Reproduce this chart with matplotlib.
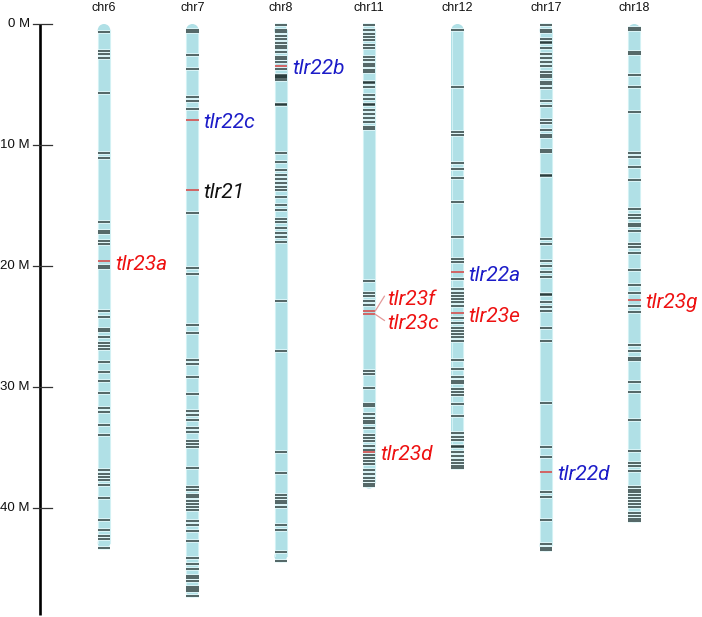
import matplotlib
matplotlib.use("Agg")
import matplotlib.pyplot as plt
from matplotlib.patches import Rectangle, Ellipse

# ---------------- data ----------------
chromosomes = ['chr6', 'chr7', 'chr8', 'chr11', 'chr12', 'chr17', 'chr18']
chrom_lengths = [43.4, 47.4, 44.5, 38.4, 36.8, 43.6, 41.2]  # Mb

chr6_bands = [0.64, 2.2, 2.5, 2.8, 5.7, 10.7, 11.1, 16.4, 17.1, 17.3, 17.9, 18.2, 20.0, 20.2,
              23.7, 24.2, 25.2, 25.4, 25.9, 26.4, 26.6, 26.9, 27.9, 28.8, 29.5, 30.5, 31.7,
              32.1, 33.1, 34.0, 36.9, 37.2, 37.4, 37.7, 38.1, 39.2, 41.0, 41.8, 42.3, 42.6, 43.3]
chr7_bands = [0.5, 0.7, 2.6, 3.75, 6.0, 6.4, 7.0, 15.6, 20.2, 20.7, 24.9, 25.5, 27.8, 28.1,
              29.2, 30.6, 32.0, 32.3, 32.7, 33.4, 33.7, 34.5, 34.7, 35.0, 36.7, 38.3, 38.5,
              38.9, 39.1, 39.4, 39.7, 39.9, 40.2, 41.1, 41.4, 41.9, 42.7, 44.1, 44.6, 45.0,
              45.6, 45.8, 46.0, 46.5, 46.7, 46.9, 47.3]
chr8_bands = [0.05, 0.5, 0.7, 1.0, 1.2, 1.6, 1.8, 2.0, 2.3, 2.7, 2.9, 3.1, 3.7, 4.2, 4.3, 4.4,
              4.5, 4.6, 6.6, 6.7, 10.7, 11.4, 12.1, 12.5, 12.8, 13.1, 13.5, 13.7, 14.3, 15.0,
              15.4, 16.1, 16.4, 16.9, 17.3, 17.6, 18.0, 22.9, 27.0, 35.4, 37.1, 38.9, 39.2,
              39.4, 39.6, 39.9, 41.4, 41.8, 43.6, 44.4]
chr11_bands = [0.1, 0.5, 0.85, 1.1, 1.3, 1.7, 2.0, 2.7, 3.0, 3.3, 3.5, 3.8, 3.95, 4.8, 4.9,
               5.2, 5.9, 6.2, 6.6, 6.7, 7.1, 7.4, 7.8, 8.1, 8.5, 8.7, 21.2, 22.2, 22.5, 22.9,
               23.2, 28.7, 28.9, 30.1, 31.4, 31.6, 32.2, 32.6, 32.8, 33.0, 33.4, 34.0, 34.2,
               34.5, 34.9, 35.2, 35.6, 35.9, 36.1, 36.4, 36.9, 37.2, 37.5, 37.8, 38.0, 38.2]
chr12_bands = [0.5, 5.2, 8.9, 9.2, 11.5, 12.0, 12.7, 14.7, 17.6, 19.4, 19.7, 21.1, 21.9, 22.2,
               22.5, 22.7, 23.0, 23.3, 24.3, 24.7, 25.1, 25.4, 25.6, 25.85, 26.2, 27.8, 28.5,
               29.2, 29.5, 29.7, 30.2, 30.4, 30.7, 31.4, 32.4, 33.8, 34.1, 34.4, 34.9, 35.0,
               35.4, 35.7, 36.0, 36.3, 36.5, 36.7]
chr17_bands = [0.05, 0.5, 0.7, 1.2, 1.5, 1.6, 2.0, 2.5, 2.8, 3.1, 3.5, 4.0, 4.2, 4.4, 4.8, 5.0,
               5.3, 6.4, 6.8, 7.9, 8.2, 8.8, 9.2, 9.3, 10.4, 10.6, 12.5, 12.6, 17.8, 18.2, 19.6,
               20.0, 20.5, 20.9, 22.3, 22.4, 23.0, 23.4, 23.75, 25.1, 26.2, 31.3, 35.0, 35.8,
               38.7, 39.1, 41.0, 43.0, 43.3, 43.5]
chr18_bands = [0.3, 0.5, 2.3, 2.5, 4.2, 5.2, 7.3, 10.7, 11.0, 11.8, 12.9, 15.3, 15.8, 16.0,
               16.5, 16.7, 17.1, 18.2, 18.4, 18.9, 20.3, 21.6, 22.2, 23.3, 23.8, 26.5, 27.0,
               27.6, 27.8, 29.6, 30.4, 32.7, 35.3, 36.3, 36.5, 36.95, 38.3, 38.5, 38.7, 38.9,
               39.2, 39.4, 39.7, 39.9, 40.4, 40.7, 40.9, 41.1]

bands = [chr6_bands, chr7_bands, chr8_bands, chr11_bands, chr12_bands, chr17_bands, chr18_bands]

genes = ['tlr23a', 'tlr22c', 'tlr21', 'tlr22b', 'tlr23f', 'tlr23c', 'tlr23d',
         'tlr22a', 'tlr23e', 'tlr22d', 'tlr23g']
gene_chrom = ['chr6', 'chr7', 'chr7', 'chr8', 'chr11', 'chr11', 'chr11',
              'chr12', 'chr12', 'chr17', 'chr18']
gene_pos = [19.6, 7.9, 13.7, 3.45, 23.7, 24.0, 35.35, 20.5, 23.9, 37.0, 22.8]
gene_group = ['red', 'blue', 'black', 'blue', 'red', 'red', 'red', 'blue', 'red', 'blue', 'red']

y_ticks = [0, 10, 20, 30, 40]
y_tick_labels = ['0 M', '10 M', '20 M', '30 M', '40 M']

# ---------------- styling / layout ----------------
W, H = 702, 617
PX_PER_M = 12.1
TOP_PX = 24
X0_PX = 104
DX_PX = 88.38
CHR_W_PX = 12.5

group_colors = {'red': '#ee1111', 'blue': '#1c1cc8', 'black': '#111111'}
label_y = {'tlr23f': 22.5, 'tlr23c': 24.5}   # fanned labels
label_gap_px = {'tlr23f': 12, 'tlr23c': 12}
LABEL_DY = 0.25

fig = plt.figure(figsize=(W / 100, H / 100), dpi=100)
ax = fig.add_axes([0, 0, 1, 1])
xmin = -X0_PX / DX_PX
xmax = (W - X0_PX) / DX_PX
ax.set_xlim(xmin, xmax)
ax.set_ylim((H - TOP_PX) / PX_PER_M, -TOP_PX / PX_PER_M)

cw = CHR_W_PX / DX_PX          # chromosome width in x units
cap_h = CHR_W_PX / PX_PER_M    # cap height in M
fill = '#b0e0e6'

for i, (name, length, blist) in enumerate(zip(chromosomes, chrom_lengths, bands)):
    x = i
    ax.add_patch(Rectangle((x - cw / 2, cap_h / 2), cw, length - cap_h,
                           facecolor=fill, edgecolor='none', zorder=1))
    ax.add_patch(Ellipse((x, cap_h / 2), cw, cap_h, facecolor=fill, edgecolor='none', zorder=1))
    ax.add_patch(Ellipse((x, length - cap_h / 2), cw, cap_h, facecolor=fill,
                         edgecolor='none', zorder=1))
    for ex in (x - cw / 2 + 0.004, x + cw / 2 - 0.004):
        ax.plot([ex, ex], [cap_h / 2, length - cap_h / 2], color='#d2f1f4', lw=0.8, zorder=1.5)
    for b in blist:
        ax.plot([x - cw / 2, x + cw / 2], [b, b], color='#e4f8fa', lw=2.6,
                solid_capstyle='butt', zorder=2)
    for b in blist:
        ax.plot([x - cw / 2, x + cw / 2], [b, b], color='#1a2c2c', lw=1.15, alpha=0.88,
                solid_capstyle='butt', zorder=3)
    ax.text(x, -1.32, name, ha='center', va='center', fontsize=9,
            family=['Liberation Sans', 'DejaVu Sans'], color='#111111')

for g, c, p, grp in zip(genes, gene_chrom, gene_pos, gene_group):
    x = chromosomes.index(c)
    ax.plot([x - cw / 2, x + cw / 2], [p, p], color='#d45a5a', lw=1.3,
            solid_capstyle='butt', zorder=4)
    ly = label_y.get(g, p)
    gap = label_gap_px.get(g, 5) / DX_PX
    if g in label_y:
        ax.plot([x + cw / 2, x + cw / 2 + 9 / DX_PX], [p, ly], color='#e29a9a', lw=0.9, zorder=4)
    ax.text(x + cw / 2 + gap, ly + LABEL_DY, g, ha='left', va='center', fontsize=15,
            style='italic', family=['Roboto', 'DejaVu Sans'], color=group_colors[grp])

# axis
ax_x = (40 - X0_PX) / DX_PX
ax.plot([ax_x, ax_x], [0, (615 - TOP_PX) / PX_PER_M], color='black', lw=1.9,
        solid_capstyle='butt', zorder=5)
for t, lab in zip(y_ticks, y_tick_labels):
    ax.plot([ax_x - 7 / DX_PX, ax_x + 12 / DX_PX], [t, t], color='#333333', lw=0.9, zorder=5)
    ax.text(ax_x - 10 / DX_PX, t, lab, ha='right', va='center', fontsize=9.5,
            family=['Liberation Sans', 'DejaVu Sans'], color='#111111')

ax.axis('off')
fig.savefig('out.png', dpi=100)
